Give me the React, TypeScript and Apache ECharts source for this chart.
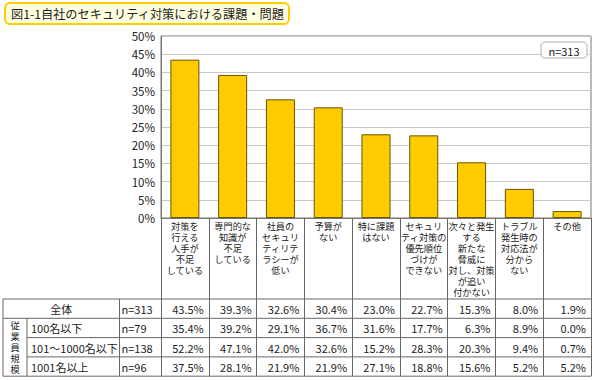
import React, { useEffect, useRef } from "react";
import * as echarts from "echarts";

const titleText = "図1-1自社のセキュリティ対策における課題・問題";
const categories = [
  "対策を\n行える\n人手が\n不足\nしている",
  "専門的な\n知識が\n不足\nしている",
  "社員の\nセキュリ\nティリテ\nラシーが\n低い",
  "予算が\nない",
  "特に課題\nはない",
  "セキュリ\nティ対策の\n優先順位\nづけが\nできない",
  "次々と発生\nする\n新たな\n脅威に\n対し、対策\nが追い\n付かない",
  "トラブル\n発生時の\n対応法が\n分から\nない",
  "その他",
];
const overallLabel = "全体";
const overallN = 313;
const overallValues = [43.5, 39.3, 32.6, 30.4, 23.0, 22.7, 15.3, 8.0, 1.9];
const groupTitle = "従業員規模";
const groupLabels = ["100名以下", "101～1000名以下", "1001名以上"];
const groupN = [79, 138, 96];
const group1Values = [35.4, 39.2, 29.1, 36.7, 31.6, 17.7, 6.3, 8.9, 0.0];
const group2Values = [52.2, 47.1, 42.0, 32.6, 15.2, 28.3, 20.3, 9.4, 0.7];
const group3Values = [37.5, 28.1, 21.9, 21.9, 27.1, 18.8, 15.6, 5.2, 5.2];
const groupValues = [group1Values, group2Values, group3Values];
const yMin = 0;
const yMax = 50;
const yStep = 5;

const FONT = "'Noto Sans CJK JP', 'Noto Sans', sans-serif";

export default function App() {
  const ref = useRef<HTMLDivElement>(null);
  useEffect(() => {
    if (!ref.current) return;
    const chart = echarts.init(ref.current, null, { renderer: "svg" });

    const W = 598;
    const plotL = 161;
    const plotR = 591;
    const plotT = 36;
    const plotB = 218;
    const band = (plotR - plotL) / categories.length;
    const tableTop = 299;
    const rowH = 19.3;
    const tableBottom = tableTop + rowH * 4;
    const leftX = 3;
    const groupColX = 27;
    const nColX = 119.5;
    const lineColor = "#666";

    const g: any[] = [];
    g.push({
      type: "rect",
      shape: { x: 5, y: 3, width: 284, height: 21, r: 5 },
      style: { fill: "#FFFFE0", stroke: "#FFCC00", lineWidth: 2 },
    });
    g.push({
      type: "text",
      style: {
        text: titleText, x: 11, y: 14, font: `12.2px ${FONT}`, fill: "#222",
        align: "left", verticalAlign: "middle", textAlign: "left", textVerticalAlign: "middle",
      },
    });
    g.push({
      type: "rect",
      shape: { x: 541, y: 42, width: 46, height: 16, r: 4 },
      style: { fill: "#fff", stroke: "#C8C8C8", lineWidth: 1.5 },
      z: 10,
    });
    g.push({
      type: "text",
      style: {
        text: `n=${overallN}`, x: 564, y: 50.5, font: `11px ${FONT}`, fill: "#222",
        align: "center", verticalAlign: "middle", textAlign: "center", textVerticalAlign: "middle",
      },
      z: 11,
    });
    const hline = (x1: number, x2: number, y: number) =>
      g.push({ type: "line", shape: { x1, y1: y, x2, y2: y }, style: { stroke: lineColor, lineWidth: 1 } });
    const vline = (x: number, y1: number, y2: number) =>
      g.push({ type: "line", shape: { x1: x, y1, x2: x, y2 }, style: { stroke: lineColor, lineWidth: 1 } });
    hline(leftX, plotR, tableTop);
    hline(leftX, plotR, tableTop + rowH);
    hline(groupColX, plotR, tableTop + rowH * 2);
    hline(groupColX, plotR, tableTop + rowH * 3);
    hline(leftX, plotR, tableBottom);
    vline(leftX, tableTop, tableBottom);
    vline(groupColX, tableTop + rowH, tableBottom);
    vline(nColX, tableTop, tableBottom);

    const txt = (text: string, x: number, y: number, align: string, size = 11, lh?: number) =>
      g.push({
        type: "text",
        style: {
          text, x, y, font: `${size}px ${FONT}`, fill: "#222",
          align, verticalAlign: "middle", textAlign: align, textVerticalAlign: "middle",
          lineHeight: lh,
        },
      });

    const rows = [
      { label: overallLabel, n: overallN, values: overallValues },
      ...groupLabels.map((l, i) => ({ label: l, n: groupN[i], values: groupValues[i] })),
    ];
    rows.forEach((r, ri) => {
      const cy = tableTop + rowH * ri + rowH / 2 + 0.5;
      if (ri === 0) txt(r.label, (leftX + nColX) / 2, cy, "center");
      else txt(r.label, groupColX + 4, cy, "left");
      txt(`n=${r.n}`, nColX + 2, cy, "left");
      r.values.forEach((v, ci) => {
        txt(`${v.toFixed(1)}%`, plotL + band * (ci + 1) - 5, cy, "right");
      });
    });
    txt(groupTitle.split("").join("\n"), (leftX + groupColX) / 2, tableTop + rowH + (rowH * 3) / 2, "center", 9.2, 11);

    chart.setOption({
      animation: false,
      backgroundColor: "#fff",
      grid: {
        left: plotL, right: W - plotR, top: plotT, bottom: 380 - plotB,
        show: true, borderColor: "#777", borderWidth: 1,
      },
      xAxis: {
        type: "category",
        data: categories,
        axisLine: { show: true, lineStyle: { color: "#777" } },
        axisTick: { show: true, length: tableBottom - plotB, lineStyle: { color: lineColor } },
        axisLabel: {
          interval: 0, margin: 2, fontSize: 9.2, lineHeight: 11, color: "#222",
          fontFamily: FONT, verticalAlign: "top",
        },
      },
      yAxis: {
        type: "value",
        min: yMin, max: yMax, interval: yStep,
        axisLine: { show: true, lineStyle: { color: "#777" } },
        axisTick: { show: false },
        splitLine: { lineStyle: { color: "#C8C8C8" } },
        axisLabel: { formatter: "{value}%", fontSize: 11.5, color: "#222", fontFamily: FONT, margin: 6 },
      },
      series: [
        {
          type: "bar",
          data: overallValues,
          barWidth: 29,
          itemStyle: { color: "#FFCC00", borderColor: "#6B5200", borderWidth: 1 },
        },
      ],
      graphic: g,
    });
    return () => chart.dispose();
  }, []);
  return (
    <div
      ref={ref}
      style={{ position: "absolute", left: 0, top: 0, width: 598, height: 380, background: "#fff" }}
    />
  );
}
